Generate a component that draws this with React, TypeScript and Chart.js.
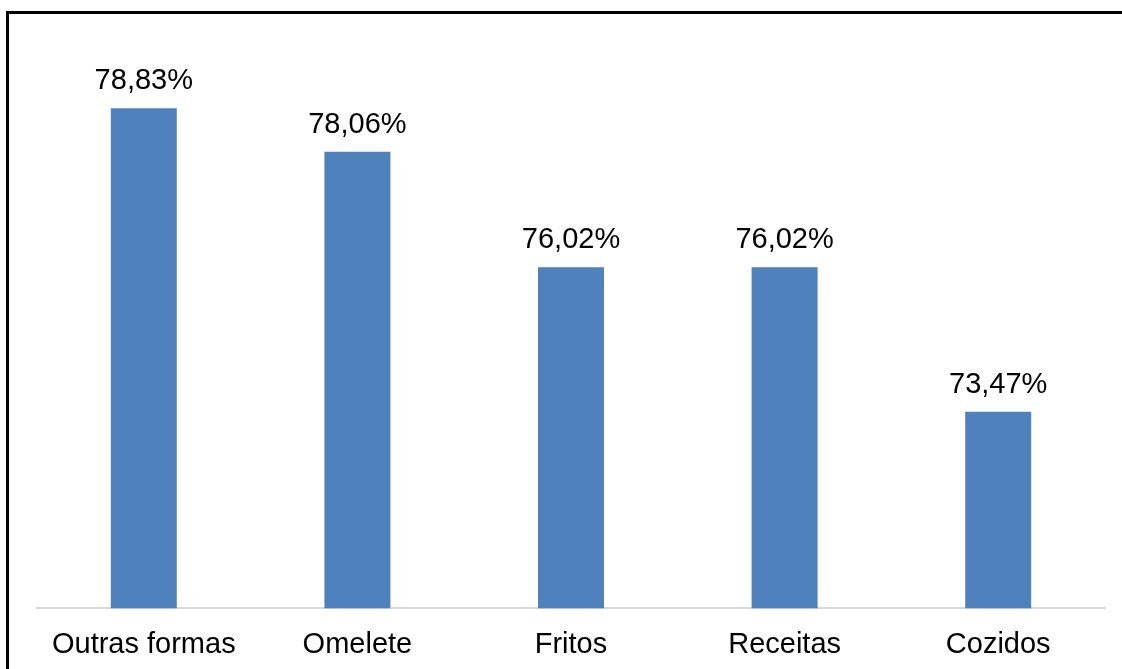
import React, { useEffect, useRef } from "react";
import { Chart, registerables } from "chart.js";

Chart.register(...registerables);

const categories = ["Outras formas", "Omelete", "Fritos", "Receitas", "Cozidos"];
const values = [78.83, 78.06, 76.02, 76.02, 73.47];
const valueLabels = ["78,83%", "78,06%", "76,02%", "76,02%", "73,47%"];

const FONT = "Arial, 'Liberation Sans', sans-serif";

const labelPlugin = {
  id: "valueLabels",
  afterDatasetsDraw(chart: any) {
    const ctx = chart.ctx;
    const meta = chart.getDatasetMeta(0);
    ctx.save();
    ctx.font = `29px ${FONT}`;
    ctx.fillStyle = "#000000";
    ctx.textAlign = "center";
    ctx.textBaseline = "alphabetic";
    meta.data.forEach((bar: any, i: number) => {
      ctx.fillText(valueLabels[i], bar.x, bar.y - 19);
    });
    ctx.restore();
  },
};

export default function App() {
  const ref = useRef<HTMLCanvasElement>(null);
  useEffect(() => {
    if (!ref.current) return;
    const chart = new Chart(ref.current, {
      type: "bar",
      data: {
        labels: categories,
        datasets: [
          {
            data: values,
            backgroundColor: "#4F81BD",
            barPercentage: 0.309,
            categoryPercentage: 1,
          },
        ],
      },
      options: {
        animation: false,
        responsive: false,
        layout: { padding: { left: 37, right: 17, top: 42, bottom: 7 } },
        plugins: { legend: { display: false }, tooltip: { enabled: false } },
        scales: {
          x: {
            grid: { display: false, drawTicks: false },
            border: { display: true, color: "#d9d9d9", width: 2 },
            ticks: {
              color: "#000000",
              padding: 19,
              font: { family: FONT, size: 29 },
              maxRotation: 0,
              autoSkip: false,
            },
          },
          y: { display: false, min: 70, max: 80 },
        },
      },
      plugins: [labelPlugin],
    });
    return () => chart.destroy();
  }, []);

  return (
    <div
      style={{
        position: "fixed",
        left: 0,
        top: 0,
        width: 1122,
        height: 669,
        background: "#ffffff",
        overflow: "hidden",
      }}
    >
      <div
        style={{
          position: "absolute",
          left: 6,
          top: 11,
          width: 1200,
          height: 800,
          borderLeft: "3px solid #000",
          borderTop: "3px solid #000",
        }}
      />
      <canvas
        ref={ref}
        width={1122}
        height={688}
        style={{ position: "absolute", left: 0, top: 0 }}
      />
    </div>
  );
}
